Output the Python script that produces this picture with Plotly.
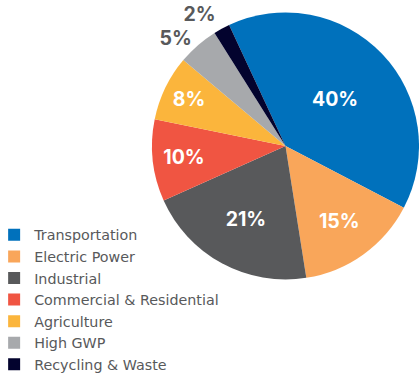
import plotly.graph_objects as go

categories = ["Transportation", "Electric Power", "Industrial", "Commercial & Residential",
              "Agriculture", "High GWP", "Recycling & Waste"]
values = [40, 15, 21, 10, 8, 5, 2]
colors = ["#0071BC", "#F9A65A", "#58595B", "#F05542", "#FBB53C", "#A7A9AC", "#03032E"]
text_pos = ["inside", "inside", "inside", "inside", "inside", "outside", "outside"]
text_colors = ["#FFFFFF", "#FFFFFF", "#FFFFFF", "#FFFFFF", "#FFFFFF", "#58595B", "#58595B"]

fig = go.Figure(go.Pie(
    labels=categories,
    values=values,
    text=[f"{v}%" for v in values],
    texttemplate="%{text}",
    textinfo="text",
    textposition=text_pos,
    insidetextorientation="horizontal",
    sort=False,
    direction="clockwise",
    rotation=-25,
    marker=dict(colors=colors, line=dict(width=0)),
    textfont=dict(family="Inter", size=19.5, color=text_colors, weight=700),
    domain=dict(x=[0.3628, 1.0], y=[0.2533, 0.968]),
    hoverinfo="label+text",
))

fig.update_layout(
    width=419, height=375,
    margin=dict(l=0, r=0, t=0, b=0, autoexpand=False),
    paper_bgcolor="white",
    plot_bgcolor="white",
    showlegend=True,
    legend=dict(
        x=-0.014, y=-0.016, xanchor="left", yanchor="bottom",
        font=dict(family="DejaVu Sans", size=14.3, color="#58595B"),
        bgcolor="rgba(0,0,0,0)",
        tracegroupgap=0,
    ),
)

# hide the small connector line plotly adds for a displaced outside label
post = "document.querySelectorAll('path.textline').forEach(function(p){p.style.display='none';});"
fig.write_html("out.html", post_script=post)
